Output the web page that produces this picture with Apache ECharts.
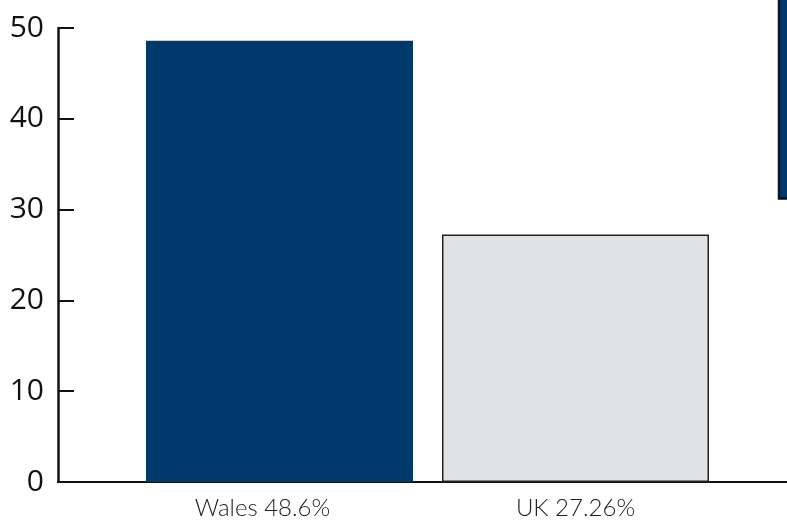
<!DOCTYPE html>
<html>
<head>
<meta charset="utf-8">
<script src="https://cdn.jsdelivr.net/npm/echarts@6/dist/echarts.min.js"></script>
<style>
html,body{margin:0;padding:0;background:#fff;}
#chart{width:787px;height:521px;}
</style>
</head>
<body>
<div id="chart"></div>
<script>
const categories = ['Wales 48.6%', 'UK 27.26%'];
const values = [48.6, 27.26];
const barColors = ['#003a6c', '#e1e2e4'];
const yTicks = [0, 10, 20, 30, 40, 50];

const chart = echarts.init(document.getElementById('chart'));
const gridTop = 28, gridBottom = 39;
chart.setOption({
  animation: false,
  backgroundColor: '#ffffff',
  grid: [
    { left: 58, right: 0, top: gridTop, bottom: gridBottom },
    { left: 131.5, right: 63.5, top: gridTop, bottom: gridBottom }
  ],
  xAxis: [
    {
      gridIndex: 0, type: 'category', data: [''],
      axisLine: { show: true, lineStyle: { color: '#111', width: 2 } },
      axisTick: { show: false }, axisLabel: { show: false }
    },
    {
      gridIndex: 1, type: 'category', data: categories,
      axisLine: { show: false }, axisTick: { show: false },
      axisLabel: {
        margin: 14,
        formatter: function (v, i) { return i === 0 ? '{w|' + v + '}' : '{u|' + v + '}'; },
        rich: {
          w: { fontFamily: 'Lato', fontWeight: 300, fontSize: 24, color: '#222', padding: [0, 34, 0, 0] },
          u: { fontFamily: 'Lato', fontWeight: 300, fontSize: 24, color: '#222' }
        }
      }
    }
  ],
  yAxis: [
    {
      gridIndex: 0, type: 'value', min: yTicks[0], max: yTicks[yTicks.length - 1], interval: 10,
      axisLine: { show: true, lineStyle: { color: '#111', width: 2.5 } },
      axisTick: { show: true, inside: true, length: 16, lineStyle: { color: '#111', width: 2 } },
      axisLabel: { margin: 14, fontFamily: 'Open Sans', fontSize: 30, color: '#111', padding: [4, 0, 0, 0] },
      splitLine: { show: false }
    },
    {
      gridIndex: 1, type: 'value', min: yTicks[0], max: yTicks[yTicks.length - 1], interval: 10,
      show: false
    }
  ],
  series: [
    {
      type: 'bar', xAxisIndex: 1, yAxisIndex: 1,
      barWidth: 267,
      data: values.map(function (v, i) {
        return {
          value: v,
          itemStyle: i === 1
            ? { color: barColors[i], borderColor: '#222', borderWidth: 1.5 }
            : { color: barColors[i] }
        };
      })
    }
  ],
  graphic: [
    {
      type: 'rect', z: 10,
      shape: { x: 779, y: -5, width: 20, height: 203.5 },
      style: { fill: '#003a6c', stroke: '#111', lineWidth: 2.5 }
    }
  ]
});
</script>
</body>
</html>
